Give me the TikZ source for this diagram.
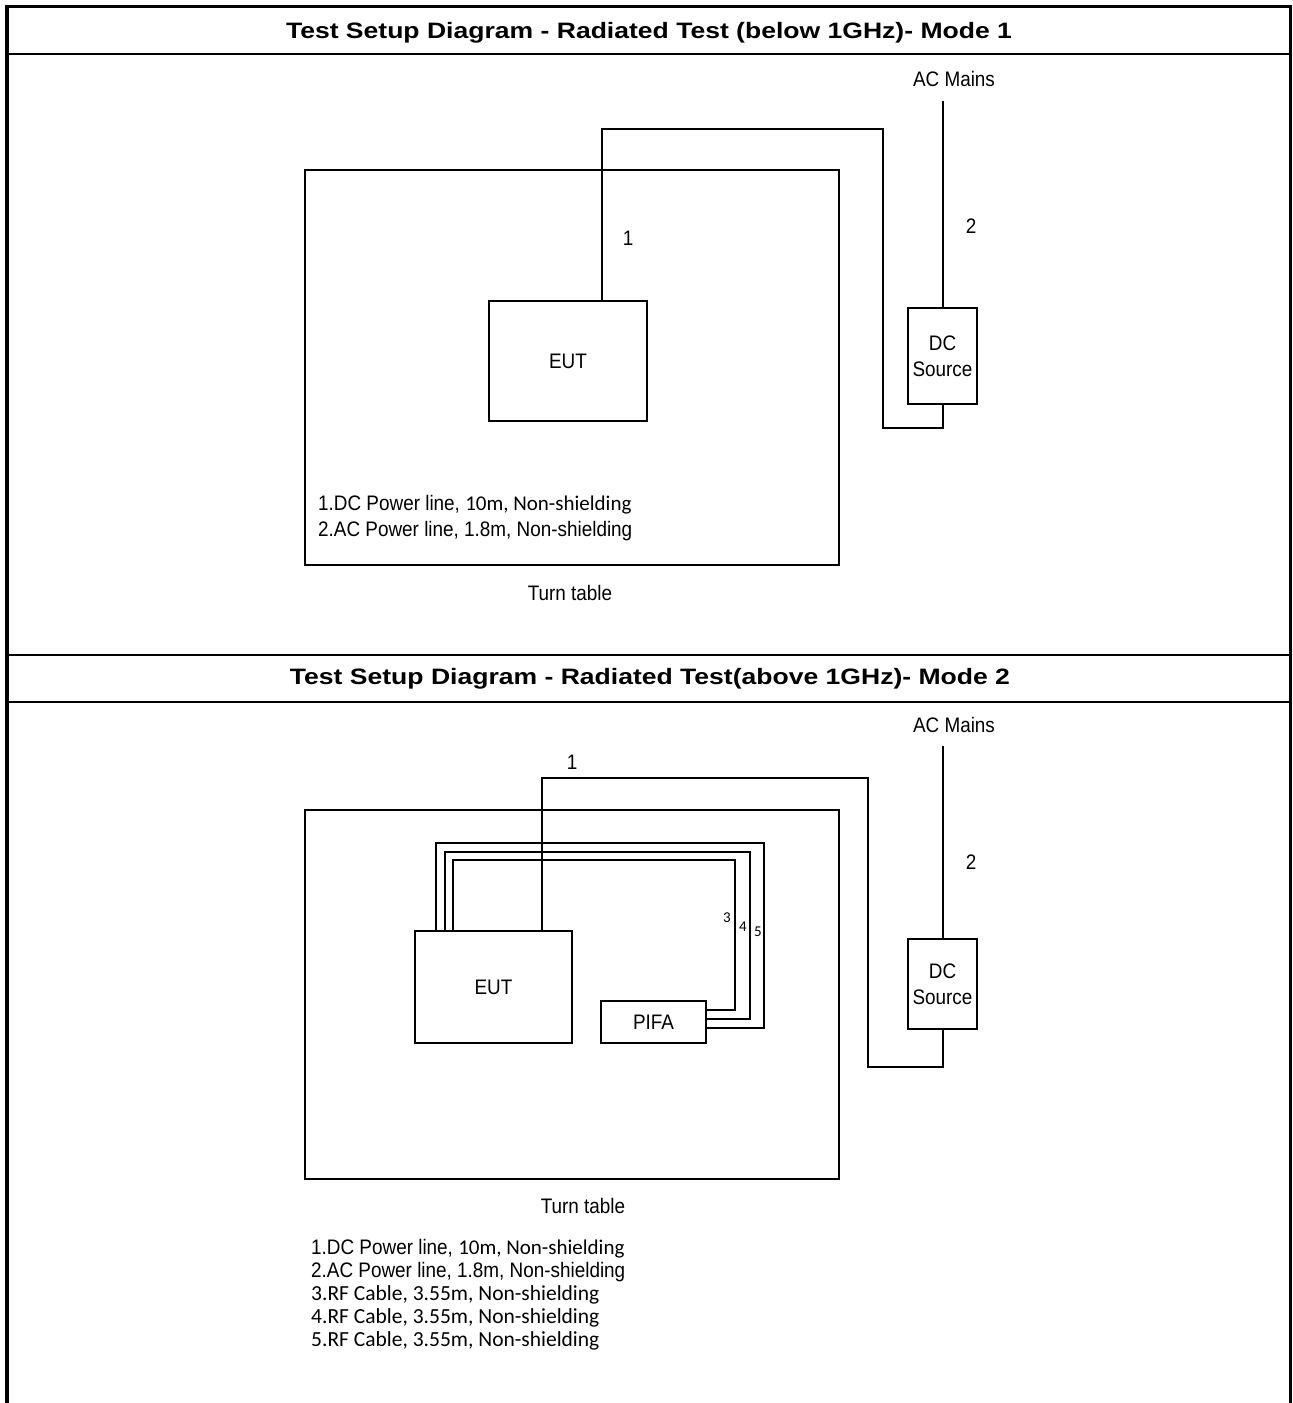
\documentclass[tikz,border=0pt]{standalone}
\usepackage{fontspec}
\setmainfont{Liberation Sans}
\newfontfamily\bodyfont[FakeStretch=0.9]{Liberation Sans}
\newfontfamily\titlefont[FakeStretch=1.19]{Liberation Sans}
\newfontfamily\calfont{Carlito}
\begin{document}
\begin{tikzpicture}[x=1pt,y=-1pt,
  framel/.style={line width=3.5pt},
  boxn/.style={draw,line width=2pt,inner sep=0pt,align=center,font=\bodyfont\fontsize{21}{26}\selectfont},
  cable/.style={line width=2pt},
  lbl/.style={inner sep=0pt,font=\bodyfont\fontsize{21}{24}\selectfont},
  small/.style={inner sep=0pt,font=\calfont\fontsize{15}{18}\selectfont},
  legend/.style={inner sep=0pt,anchor=north west,align=left,font=\bodyfont\fontsize{21}{26}\selectfont},
  title/.style={inner sep=0pt,font=\titlefont\fontsize{22.3}{28}\selectfont\bfseries}]
\useasboundingbox (0,0) rectangle (1293,1403);
\fill[white] (0,0) rectangle (1293,1403);
% frame
\draw[framel] (7,5) -- (7,1403);
\draw[line width=3pt] (1290.5,5) -- (1290.5,1403);
\draw[framel] (5,6.5) -- (1292,6.5);
\draw[line width=2.5pt] (7,54) -- (1291,54);
\draw[line width=2.5pt] (7,655) -- (1291,655);
\draw[line width=2.5pt] (7,702) -- (1291,702);
\node[title] (t1) at (649,32.5) {Test Setup Diagram - Radiated Test (below 1GHz)- Mode 1};
\node[title] (t2) at (650,678.5) {Test Setup Diagram - Radiated Test(above 1GHz)- Mode 2};
% ---------- Mode 1 ----------
\node[draw,line width=2pt,minimum width=534pt,minimum height=395pt,inner sep=0pt] (tt1) at (572,367.5) {};
\node[boxn,minimum width=158pt,minimum height=120pt] (eut1) at (568,361) {EUT};
\node[boxn,minimum width=69pt,minimum height=96pt] (dc1) at (942.5,356) {DC\\Source};
\node[lbl] (ac1) at (954,79) {AC Mains};
\coordinate (ac1e) at (943,101);
\coordinate (c1a) at (602,129);
\coordinate (c1b) at (883,428);
\draw[cable] (c1a |- eut1.north) -- (c1a) -| (c1b) -| (dc1.south);
\draw[cable] (ac1e) -- (ac1e |- dc1.north);
\node[lbl] (n1a) at (628,238.5) {1};
\node[lbl] (n2a) at (971,226.5) {2};
\node[legend] (leg1) at (318,495) {1.DC Power line, {\calfont\fontsize{21}{26}\selectfont 10m, Non-shielding}\\2.AC Power line, 1.8m, Non-shielding};
\node[lbl] (tl1) at (570,593) {Turn table};
% ---------- Mode 2 ----------
\node[draw,line width=2pt,minimum width=534pt,minimum height=369pt,inner sep=0pt] (tt2) at (572,994.5) {};
\node[boxn,minimum width=157pt,minimum height=112pt] (eut2) at (493.5,987) {EUT};
\node[boxn,minimum width=105pt,minimum height=42pt] (pifa) at (653.5,1022) {PIFA};
\node[boxn,minimum width=69pt,minimum height=90pt] (dc2) at (942.5,984) {DC\\Source};
\node[lbl] (ac2) at (954,725) {AC Mains};
\coordinate (ac2e) at (943,746);
\coordinate (c2a) at (542,778);
\coordinate (c2b) at (868,1067);
\draw[cable] (c2a |- eut2.north) -- (c2a) -| (c2b) -| (dc2.south);
\draw[cable] (ac2e) -- (ac2e |- dc2.north);
\node[lbl] (n1b) at (572,762.5) {1};
\node[lbl] (n2b) at (971,862.5) {2};
% RF cables
\coordinate (r5a) at (436,843); \coordinate (r5b) at (764,1028);
\coordinate (r4a) at (445,852); \coordinate (r4b) at (750,1019);
\coordinate (r3a) at (453,860); \coordinate (r3b) at (735,1010);
\draw[cable] (r5a |- eut2.north) -- (r5a) -| (r5b) -- (r5b -| pifa.east);
\draw[cable] (r4a |- eut2.north) -- (r4a) -| (r4b) -- (r4b -| pifa.east);
\draw[cable] (r3a |- eut2.north) -- (r3a) -| (r3b) -- (r3b -| pifa.east);
\node[small] (n3) at (727,918) {3};
\node[small] (n4) at (743,927) {4};
\node[small] (n5) at (758,932) {5};
\node[lbl] (tl2) at (583,1206) {Turn table};
\node[legend,font=\bodyfont\fontsize{21}{23}\selectfont] (leg2) at (311,1239) {1.DC Power line, {\calfont\fontsize{21}{23}\selectfont 10m, Non-shielding}\\2.AC Power line, 1.8m, Non-shielding\\
{\calfont\fontsize{21.5}{23}\selectfont 3.RF Cable, 3.55m, Non-shielding}\\
{\calfont\fontsize{21.5}{23}\selectfont 4.RF Cable, 3.55m, Non-shielding}\\
{\calfont\fontsize{21.5}{23}\selectfont 5.RF Cable, 3.55m, Non-shielding}};
\end{tikzpicture}
\end{document}
